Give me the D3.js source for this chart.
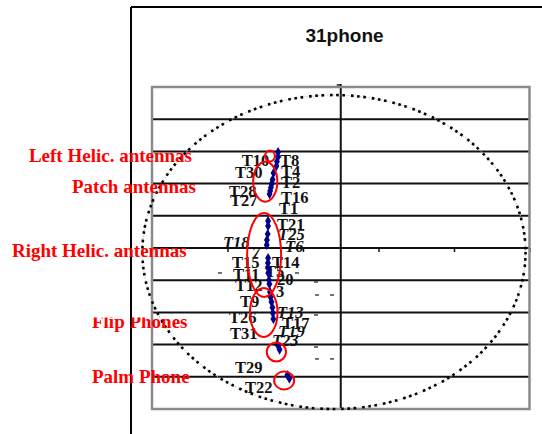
<!DOCTYPE html>
<html><head><meta charset="utf-8">
<script src="https://cdn.jsdelivr.net/npm/d3@7"></script>
<style>html,body{margin:0;padding:0;background:#fff;overflow:hidden}</style>
</head><body>
<svg id="chart" width="542" height="434"></svg>
<script>
// Chart title
const title = "31phone";

// Phone positions in chart units (both axes run -1 .. 1)
const phoneX = [-0.332,-0.333,-0.338,-0.341,-0.356,-0.361,-0.366,-0.370,-0.374,-0.377,
                -0.385,-0.385,-0.387,-0.391,-0.392,-0.385,-0.386,-0.385,-0.384,-0.380,
                -0.378,-0.375,-0.372,-0.367,-0.362,-0.360,-0.357,-0.331,-0.324,-0.283,-0.272];
const phoneY = [ 0.596, 0.565, 0.537, 0.509, 0.466, 0.425, 0.398, 0.376, 0.354, 0.335,
                 0.168, 0.137, 0.087, 0.050, 0.019,-0.062,-0.093,-0.124,-0.155,-0.199,
                -0.224,-0.273,-0.304,-0.335,-0.370,-0.404,-0.441,-0.609,-0.631,-0.789,-0.811];

// Phone tags and where they sit (chart units)
const tagNames = ["T10","T8","T30","T4","T2","T28","T27","T16","T1","T21",
                  "T25","T18","T6","7","T15","T14","T5","T11","20","T12",
                  "3","T9","T13","T26","T17","T31","T19","T23","T29","T22"];
const tagX = [-0.525,-0.322,-0.560,-0.316,-0.316,-0.592,-0.587,-0.316,-0.327,-0.338,
              -0.332,-0.624,-0.295,-0.470,-0.576,-0.364,-0.401,-0.571,-0.338,-0.560,
              -0.343,-0.534,-0.338,-0.592,-0.311,-0.587,-0.332,-0.364,-0.560,-0.507];
const tagY = [ 0.512, 0.512, 0.435, 0.438, 0.373, 0.317, 0.261, 0.280, 0.211, 0.112,
               0.050, 0.000,-0.025,-0.062,-0.124,-0.124,-0.180,-0.199,-0.230,-0.267,
              -0.304,-0.366,-0.435,-0.466,-0.503,-0.565,-0.553,-0.609,-0.776,-0.901];
const italicTags = new Set(["T25","T18","T6","7","T13","T19","T23"]);

// Antenna / phone-type groups: caption and ring around their phones
const groupNames  = ["Left Helic. antennas","Patch antennas","Right Helic. antennas","Flip Phones","Palm Phone"];
const groupTextX  = [-1.652,-1.424,-1.742,-1.318,-1.318];
const groupTextY  = [ 0.536, 0.342,-0.056,-0.497,-0.839];
const ringCX = [-0.375,-0.400,-0.406,-0.408,-0.341,-0.300];
const ringCY = [ 0.571, 0.412,-0.043,-0.401,-0.646,-0.823];
const ringRX = [ 0.026, 0.064, 0.090, 0.073, 0.051, 0.053];
const ringRY = [ 0.034, 0.124, 0.261, 0.152, 0.059, 0.056];

// Grid rows and axis ticks
const gridRows = [-0.8,-0.6,-0.4,-0.2,0,0.2,0.4,0.6,0.8];
const axisTicks = [-1,-0.6,-0.2,0.2,0.6,1];

// Stray minus marks inside the plot
const dashX = [-0.131,-0.126,-0.046,-0.131,-0.131,-0.126,-0.046,-0.640,-0.232];
const dashY = [-0.211,-0.292,-0.292,-0.416,-0.615,-0.689,-0.689,-0.155,-0.155];

// Boundary ellipse (chart units)
const boundaryCenter = [-0.036,-0.025];
const boundaryRadius = [1.015, 0.975];

const W = 542, H = 434;
const plot = {left: 152, right: 529.5, top: 87, bottom: 409};
const x = d3.scaleLinear().domain([-1, 1]).range([plot.left, plot.right]);
const y = d3.scaleLinear().domain([-1, 1]).range([plot.bottom, plot.top]);

const svg = d3.select("#chart");
svg.append("rect").attr("width", W).attr("height", H).attr("fill", "#fff");

// outer frame (top and left edges)
svg.append("line").attr("x1", 131).attr("y1", 7).attr("x2", W).attr("y2", 7)
  .attr("stroke", "#000").attr("stroke-width", 2);
svg.append("line").attr("x1", 131).attr("y1", 7).attr("x2", 131).attr("y2", H)
  .attr("stroke", "#000").attr("stroke-width", 2);

// title
svg.append("text").attr("x", 344.5).attr("y", 42).attr("text-anchor", "middle")
  .attr("font-family", "Liberation Sans, Arial, sans-serif").attr("font-weight", "bold")
  .attr("font-size", 19).attr("fill", "#111").text(title);

// horizontal grid rows
svg.append("g").selectAll("line").data(gridRows).join("line")
  .attr("x1", x(-1)).attr("x2", x(1))
  .attr("y1", d => y(d)).attr("y2", d => y(d))
  .attr("stroke", "#111").attr("stroke-width", 2);

// tick marks on the zero row
const axis = d3.axisBottom(x).tickValues(axisTicks).tickSize(4).tickFormat("");
const ax = svg.append("g").attr("transform", `translate(0,${y(0)})`).call(axis);
ax.select(".domain").remove();
ax.selectAll(".tick line").attr("stroke", "#111").attr("stroke-width", 1.5);

// vertical zero axis
svg.append("line").attr("x1", x(0)).attr("x2", x(0)).attr("y1", y(1) - 3).attr("y2", y(-1))
  .attr("stroke", "#111").attr("stroke-width", 2);
svg.append("line").attr("x1", x(0) - 4).attr("x2", x(0)).attr("y1", y(1) - 2).attr("y2", y(1) - 2)
  .attr("stroke", "#111").attr("stroke-width", 1.5);

// plot border
svg.append("rect").attr("x", x(-1)).attr("y", y(1))
  .attr("width", x(1) - x(-1)).attr("height", y(-1) - y(1))
  .attr("fill", "none").attr("stroke", "#8a8a8a").attr("stroke-width", 2.5);

// stray minus marks
svg.append("g").selectAll("line").data(dashX).join("line")
  .attr("x1", (d, i) => x(d) - 2).attr("x2", (d, i) => x(d) + 2)
  .attr("y1", (d, i) => y(dashY[i])).attr("y2", (d, i) => y(dashY[i]))
  .attr("stroke", "#444").attr("stroke-width", 1.5);

// boundary ellipse: faint grey dashes under black square dots
const bcx = x(boundaryCenter[0]), bcy = y(boundaryCenter[1]);
const brx = x(boundaryCenter[0] + boundaryRadius[0]) - bcx;
const bry = bcy - y(boundaryCenter[1] + boundaryRadius[1]);
svg.append("ellipse").attr("cx", bcx).attr("cy", bcy).attr("rx", brx).attr("ry", bry)
  .attr("fill", "none").attr("stroke", "#bdbdbd").attr("stroke-width", 1)
  .attr("stroke-dasharray", "1.5 1.5");
svg.append("ellipse").attr("cx", bcx).attr("cy", bcy).attr("rx", brx).attr("ry", bry)
  .attr("fill", "none").attr("stroke", "#000").attr("stroke-width", 2.6)
  .attr("stroke-dasharray", "2.6 3.6 2.6 3.6 2.6 6");

// phone tags
svg.append("g").selectAll("text").data(tagNames).join("text")
  .attr("x", (d, i) => x(tagX[i])).attr("y", (d, i) => y(tagY[i]))
  .attr("font-family", "Liberation Serif, Times New Roman, serif")
  .attr("font-weight", "bold")
  .attr("font-style", d => italicTags.has(d) ? "italic" : "normal")
  .attr("font-size", 16.5).attr("fill", "#111").text(d => d);

// phones
svg.append("g").selectAll("path").data(phoneX).join("path")
  .attr("d", d3.symbol(d3.symbolDiamond, 30))
  .attr("transform", (d, i) => `translate(${x(d)},${y(phoneY[i])})`)
  .attr("fill", "#00008b");

// group rings
svg.append("g").selectAll("ellipse").data(ringCX).join("ellipse")
  .attr("cx", d => x(d)).attr("cy", (d, i) => y(ringCY[i]))
  .attr("rx", (d, i) => x(d + ringRX[i]) - x(d))
  .attr("ry", (d, i) => y(ringCY[i]) - y(ringCY[i] + ringRY[i]))
  .attr("fill", "none").attr("stroke", "#ff0000").attr("stroke-width", 2);

// group captions; the flip caption is trimmed just under the row line above it
const defs = svg.append("defs");
defs.append("clipPath").attr("id", "flipClip").append("rect")
  .attr("x", 0).attr("y", y(-0.4) + 5).attr("width", W).attr("height", H);
svg.append("g").selectAll("text").data(groupNames).join("text")
  .attr("x", (d, i) => x(groupTextX[i])).attr("y", (d, i) => y(groupTextY[i]))
  .attr("clip-path", d => d === "Flip Phones" ? "url(#flipClip)" : null)
  .attr("font-family", "Liberation Serif, Times New Roman, serif")
  .attr("font-weight", "bold").attr("font-size", 19).attr("fill", "#ff0000")
  .text(d => d);
</script>
</body></html>
